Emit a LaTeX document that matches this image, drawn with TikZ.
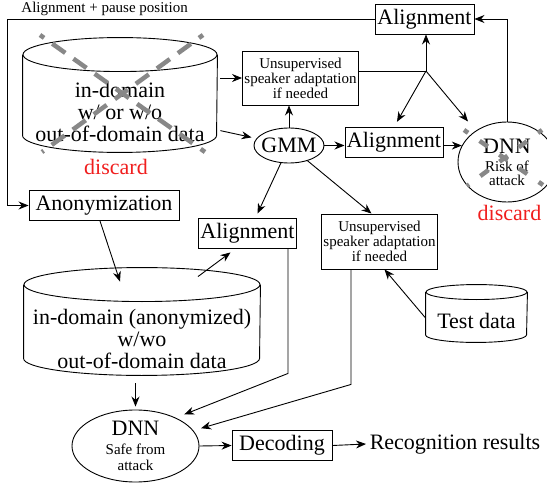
\documentclass[tikz,border=0pt]{standalone}
\usepackage{fontspec}
\setmainfont{Liberation Serif}
\usepackage{xcolor}
\usepackage{tikz}
\usetikzlibrary{positioning}
\usetikzlibrary{arrows.meta, shapes.geometric}

\newcommand{\bigfnt}{\fontsize{22}{22}\selectfont}
\newcommand{\smallfnt}{\fontsize{15}{15}\selectfont}
\definecolor{strikegray}{RGB}{136,136,136}
\definecolor{discardred}{RGB}{240,30,30}

% cylinder outline around the body node #1 (half width #2, end radius #3)
\newcommand{\drawstore}[3]{%
  \draw ([yshift=#3]#1.north) ellipse [x radius=#2, y radius=#3];
  \draw ([yshift=#3]#1.north west) -- ([yshift=#3]#1.south west)
    arc [start angle=180, end angle=360, x radius=#2, y radius=#3]
    -- ([yshift=#3]#1.north east);}

\begin{document}
\begin{tikzpicture}[
        x=1pt, y=-1pt, line width=0.9pt,
        >={Stealth[length=10pt,width=8pt]},
        box/.style={draw, rectangle, font=\bigfnt, inner xsep=2pt, minimum height=30pt},
        smallbox/.style={draw, rectangle, font=\smallfnt, align=center, inner xsep=2pt, inner ysep=4pt},
        oval/.style={draw, ellipse, font=\bigfnt, align=center, inner sep=0pt},
        store/.style={rectangle, font=\bigfnt, align=center, inner sep=0pt},
        strike/.style={strikegray, line width=4.5pt, dash pattern=on 16pt off 10pt, dash phase=11pt},
        discard/.style={text=discardred, font=\bigfnt}
    ]
    \useasboundingbox (0,0) rectangle (547,487);

    % Nodes
    \node[box, minimum width=99pt] (aligntop) at (424.5,19) {Alignment};
    \node[smallbox, minimum width=115pt, minimum height=54pt] (adapttop) at (300.5,78) {Unsupervised\\speaker adaptation\\if needed};
    \node[box, minimum width=98pt] (alignmid) at (394,142.5) {Alignment};
    \node[box, minimum width=150pt] (anon) at (104,205.5) {Anonymization};
    \node[box, minimum width=97pt] (alignlow) at (247.5,233) {Alignment};
    \node[smallbox, minimum width=115pt, minimum height=55pt] (adaptlow) at (379.5,241.5) {Unsupervised\\speaker adaptation\\if needed};
    \node[box, minimum width=100pt] (decoding) at (282,445.5) {Decoding};
    \node[font=\bigfnt, anchor=west] (results) at (366,444) {Recognition results};
    \node[oval, minimum width=70pt, minimum height=35pt, inner xsep=-3pt] (gmm) at (289,145.5) {GMM};
    \node[oval, minimum width=98pt, minimum height=80pt] (dnnrisk) at (507,162) {DNN\\[-4pt]{\smallfnt Risk of}\\[-8pt]{\smallfnt attack}};
    \node[oval, minimum width=127pt, minimum height=72pt] (dnnsafe) at (135.5,446) {DNN\\[-3pt]{\smallfnt Safe from}\\[-6pt]{\smallfnt attack}};
    \node[store, minimum width=194pt, minimum height=80pt] (rawdata) at (120,112) {in-domain\\w/ or w/o\\out-of-domain data};
    \node[store, minimum width=236pt, minimum height=73pt] (anondata) at (142,338.5) {in-domain (anonymized)\\w/wo\\out-of-domain data};
    \node[store, minimum width=101pt, minimum height=42pt] (testdata) at (476.5,321) {Test data};
    \node[discard] (discardraw) at (116,167) {discard};
    \node[discard] (discardrisk) at (509.5,213) {discard};
    \node[font=\smallfnt, anchor=west, inner sep=0pt] (pauselabel) at (21,9) {Alignment + pause position};
    \coordinate (split) at (426,71);
    \coordinate (feedback) at (7,19);

    % Data stores
    \drawstore{rawdata}{97pt}{17pt}
    \drawstore{anondata}{118pt}{17pt}
    \drawstore{testdata}{50.5pt}{7.5pt}

    % Edges
    \draw[->] (aligntop.west) -- (feedback) |- (anon.west);
    \draw[->, shorten <=3pt] (rawdata.east |- adapttop.west) -- (adapttop.west);
    \draw[->, shorten <=3pt, shorten >=5pt] ([yshift=-18pt]rawdata.east) -- (gmm);
    \draw[->] (gmm.north) -- (gmm.north |- adapttop.south);
    \draw[->] (gmm.east) -- (gmm.east -| alignmid.west);
    \draw[->] (alignmid.east |- dnnrisk.160) -- (dnnrisk.160);
    \draw (split -| adapttop.east) -- (split);
    \draw[->] (split) -- (split |- aligntop.south);
    \draw[->, shorten >=6pt] (split) -- (alignmid.north);
    \draw[->, shorten >=12pt] (split) -- (dnnrisk.135);
    \draw[->] (dnnrisk.north) |- (aligntop.east);
    \draw[->] (gmm) -- ([shift={(10pt,4pt)}]alignlow.north);
    \draw[->] (gmm) -- ([xshift=-8pt]adaptlow.north);
    \draw[->] ([yshift=3pt]testdata.west) -- ([xshift=5pt]adaptlow.south);
    \draw[->] ([xshift=-4pt]anon.south) -- ([shift={(-22pt,20pt)}]anondata.north);
    \draw[->] ([shift={(56pt,25pt)}]anondata.north) -- ([shift={(-17pt,-4pt)}]alignlow.south);
    \draw[->, shorten >=9pt] ([xshift=-9pt]alignlow.south east) -- ++(0,125) -- (dnnsafe.35);
    \draw[->, shorten >=8pt] ([xshift=-28.5pt]adaptlow.south) -- ++(0,115) -- (dnnsafe.15);
    \draw[->, shorten <=8pt, shorten >=3pt] (anondata.south -| dnnsafe.north) -- (dnnsafe.north);
    \draw[->] (dnnsafe.east) -- (decoding.west);
    \draw[->] (decoding.east) -- (results.west);

    % discarded parts
    \draw[strike] (40,35) -- (205,152);
    \draw[strike] (203,35) -- (42,152);
    \draw[strike, dash pattern=on 10pt off 14pt, dash phase=5pt] (464,130) -- (543,185);
    \draw[strike, dash pattern=on 10pt off 14pt, dash phase=5pt] (542,130) -- (467,186);
\end{tikzpicture}
\end{document}
